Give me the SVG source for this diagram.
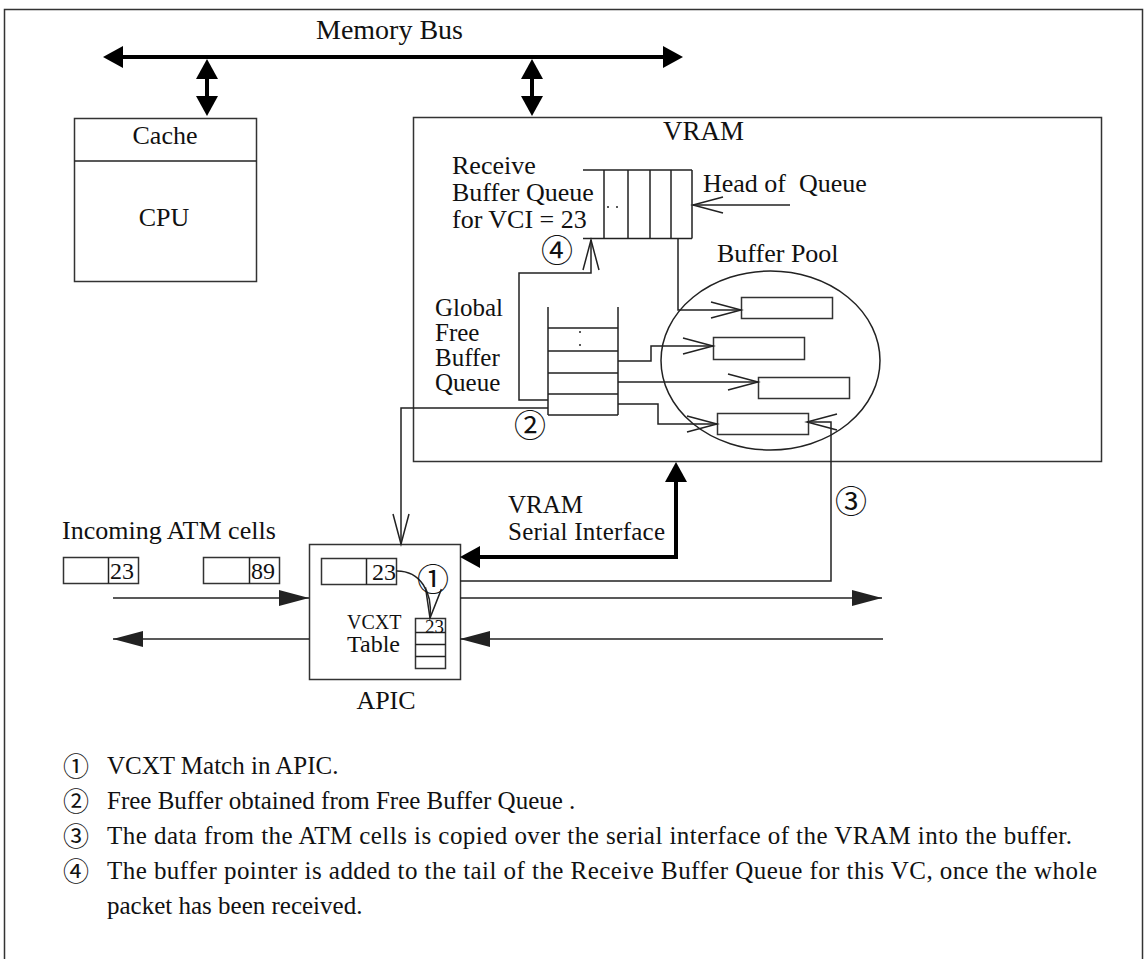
<svg xmlns="http://www.w3.org/2000/svg" width="1148" height="959" viewBox="0 0 1148 959">
  <style>
    text { font-family: "Liberation Serif", "Times New Roman", serif; font-size: 26px; fill: #111; }
    .circ { font-family: "Liberation Serif", "Noto Sans CJK JP", serif; font-size: 32px; }
    .leg { font-size: 25px; }
    .stack { font-size: 25px; }
    .box { fill: #fff; stroke: #333; stroke-width: 1.5; }
    .ln { fill: none; stroke: #222; stroke-width: 1.5; }
    .thick { fill: none; stroke: #000; stroke-width: 4; }
    .mid { text-anchor: middle; }
  </style>
  <defs>
    <marker id="big" markerUnits="userSpaceOnUse" markerWidth="40" markerHeight="30" viewBox="-20 -15 40 30" refX="0" refY="0" orient="auto-start-reverse" overflow="visible">
      <path d="M-12,-11 L8,0 L-12,11 Z" fill="#000"/>
    </marker>
    <marker id="solid" markerUnits="userSpaceOnUse" markerWidth="40" markerHeight="20" viewBox="-35 -10 40 20" refX="0" refY="0" orient="auto" overflow="visible">
      <path d="M-30,-8 L0,0 L-30,8 Z" fill="#222"/>
    </marker>
    <marker id="open" markerUnits="userSpaceOnUse" markerWidth="40" markerHeight="20" viewBox="-35 -10 40 20" refX="0" refY="0" orient="auto" overflow="visible">
      <path d="M-30,-8 L0,0 L-30,8" fill="none" stroke="#222" stroke-width="1.5"/>
    </marker>
  </defs>

  <!-- page frame -->
  <rect x="4.5" y="9.5" width="1138" height="970" fill="#fff" stroke="#333" stroke-width="1.5"/>

  <!-- memory bus -->
  <g id="memory-bus">
    <text x="316" y="39" style="font-size:28px">Memory Bus</text>
    <path class="thick" d="M111,57 H675" marker-start="url(#big)" marker-end="url(#big)"/>
  </g>

  <!-- CPU with cache -->
  <g id="cpu">
    <rect class="box" x="74.5" y="118.5" width="182" height="163"/>
    <line class="ln" x1="74.5" y1="161" x2="256.5" y2="161"/>
    <text class="mid" x="165" y="144">Cache</text>
    <text class="mid" x="164" y="226">CPU</text>
  </g>

  <!-- VRAM -->
  <g id="vram">
    <rect class="box" x="413.5" y="117.5" width="688" height="344"/>
    <text x="663" y="140" style="font-size:27px">VRAM</text>
  </g>

  <!-- receive buffer queue for VCI 23 -->
  <g id="receive-queue">
    <text x="452" y="174">Receive</text>
    <text x="452" y="201">Buffer Queue</text>
    <text x="452" y="228">for VCI = 23</text>
    <path class="ln" d="M583,170 H692 M583,238.5 H692 M604,170 V238.5 M628,170 V238.5 M650,170 V238.5 M671,170 V238.5 M692,170 V238.5"/>
    <circle cx="608" cy="207" r="1" fill="#222"/>
    <circle cx="617" cy="207" r="1" fill="#222"/>
    <text x="703" y="192" xml:space="preserve">Head of  Queue</text>
  </g>

  <!-- global free buffer queue -->
  <g id="free-queue">
    <text class="stack" x="435" y="316">Global</text>
    <text class="stack" x="435" y="341">Free</text>
    <text class="stack" x="435" y="366">Buffer</text>
    <text class="stack" x="435" y="391">Queue</text>
    <path class="ln" d="M548,307 V415 M618,307 V415 M548,328 H618 M548,351 H618 M548,373 H618 M548,394 H618 M548,415 H618"/>
    <circle cx="580" cy="332" r="1" fill="#222"/>
    <circle cx="580" cy="345" r="1" fill="#222"/>
  </g>

  <!-- buffer pool -->
  <g id="buffer-pool">
    <text x="717" y="262">Buffer Pool</text>
    <ellipse cx="770.5" cy="360.5" rx="109.5" ry="89.5" fill="none" stroke="#222" stroke-width="1.5"/>
    <rect class="box" x="741.5" y="297.5" width="91" height="21" fill="none"/>
    <rect class="box" x="713.5" y="337.5" width="91" height="22" fill="none"/>
    <rect class="box" x="758.5" y="377.5" width="91" height="21" fill="none"/>
    <rect class="box" x="717.5" y="413.5" width="91" height="21" fill="none"/>
  </g>

  <!-- APIC -->
  <g id="apic">
    <rect class="box" x="309.5" y="544.5" width="151" height="135"/>
    <rect class="box" x="321.5" y="558.5" width="75" height="26"/>
    <line class="ln" x1="366.5" y1="558.5" x2="366.5" y2="584.5"/>
    <text x="372" y="580" style="font-size:24px">23</text>
    <text x="347" y="629" style="font-size:20px">VCXT</text>
    <text x="347" y="652" style="font-size:24px">Table</text>
    <rect class="box" x="415.5" y="618.5" width="30" height="50" fill="none"/>
    <path class="ln" d="M415.5,632.5 H445.5 M415.5,644.5 H445.5 M415.5,656.5 H445.5"/>
    <text x="425" y="633" style="font-size:19px">23</text>
    <text class="mid" x="386" y="709">APIC</text>
  </g>

  <!-- incoming ATM cells -->
  <g id="atm-cells">
    <text x="62" y="539">Incoming ATM cells</text>
    <rect class="box" x="63.5" y="557.5" width="75" height="26"/>
    <line class="ln" x1="108.5" y1="557.5" x2="108.5" y2="583.5"/>
    <text x="110" y="579" style="font-size:24px">23</text>
    <rect class="box" x="203.5" y="557.5" width="76" height="26"/>
    <line class="ln" x1="249.5" y1="557.5" x2="249.5" y2="583.5"/>
    <text x="251" y="579" style="font-size:24px">89</text>
  </g>

  <!-- connectors -->
  <g id="connectors">
    <path class="thick" d="M207,67 V108" marker-start="url(#big)" marker-end="url(#big)"/>
    <path class="thick" d="M532,67 V108" marker-start="url(#big)" marker-end="url(#big)"/>
    <path class="thick" d="M468,557 H676 V470" marker-start="url(#big)" marker-end="url(#big)"/>
    <text class="stack" x="508" y="513">VRAM</text>
    <text class="stack" x="508" y="540" textLength="157">Serial Interface</text>

    <path class="ln" d="M790,205 H693" marker-end="url(#open)"/>
    <path class="ln" d="M678,238.5 V310 H741" marker-end="url(#open)"/>
    <path class="ln" d="M618,361 H651 V346 H713" marker-end="url(#open)"/>
    <path class="ln" d="M618,382 H758" marker-end="url(#open)"/>
    <path class="ln" d="M618,404 H658 V424 H717" marker-end="url(#open)"/>
    <path class="ln" d="M548,400 H519 V273 H591 V240" marker-end="url(#open)"/>
    <path class="ln" d="M548,408 H401 V544" marker-end="url(#open)"/>
    <path class="ln" d="M460,581 H831 V422 H807" marker-end="url(#open)"/>
    <path class="ln" d="M397,571 C420,571 433,592 430,618" marker-end="url(#open)"/>

    <path class="ln" d="M113,598 H309" marker-end="url(#solid)"/>
    <path class="ln" d="M309,639 H113" marker-end="url(#solid)"/>
    <path class="ln" d="M460,598 H882" marker-end="url(#solid)"/>
    <path class="ln" d="M883,639 H460" marker-end="url(#solid)"/>

    <text class="circ mid" x="557" y="262">④</text>
    <text class="circ mid" x="530" y="437">②</text>
    <text class="circ mid" x="851" y="513">③</text>
    <text class="circ mid" x="433" y="591">①</text>
  </g>

  <!-- legend -->
  <g id="legend">
    <text class="circ mid" x="76" y="776" style="font-size:26px">①</text>
    <text class="leg" x="107" y="774">VCXT Match in APIC.</text>
    <text class="circ mid" x="76" y="811" style="font-size:26px">②</text>
    <text class="leg" x="107" y="809">Free Buffer obtained from Free Buffer Queue .</text>
    <text class="circ mid" x="76" y="846" style="font-size:26px">③</text>
    <text class="leg" x="107" y="844" textLength="965">The data from the ATM cells is copied over the serial interface of the VRAM into the buffer.</text>
    <text class="circ mid" x="76" y="881" style="font-size:26px">④</text>
    <text class="leg" x="107" y="879" textLength="990">The buffer pointer is added to the tail of the Receive Buffer Queue for this VC, once the whole</text>
    <text class="leg" x="107" y="914">packet has been received.</text>
  </g>
</svg>
